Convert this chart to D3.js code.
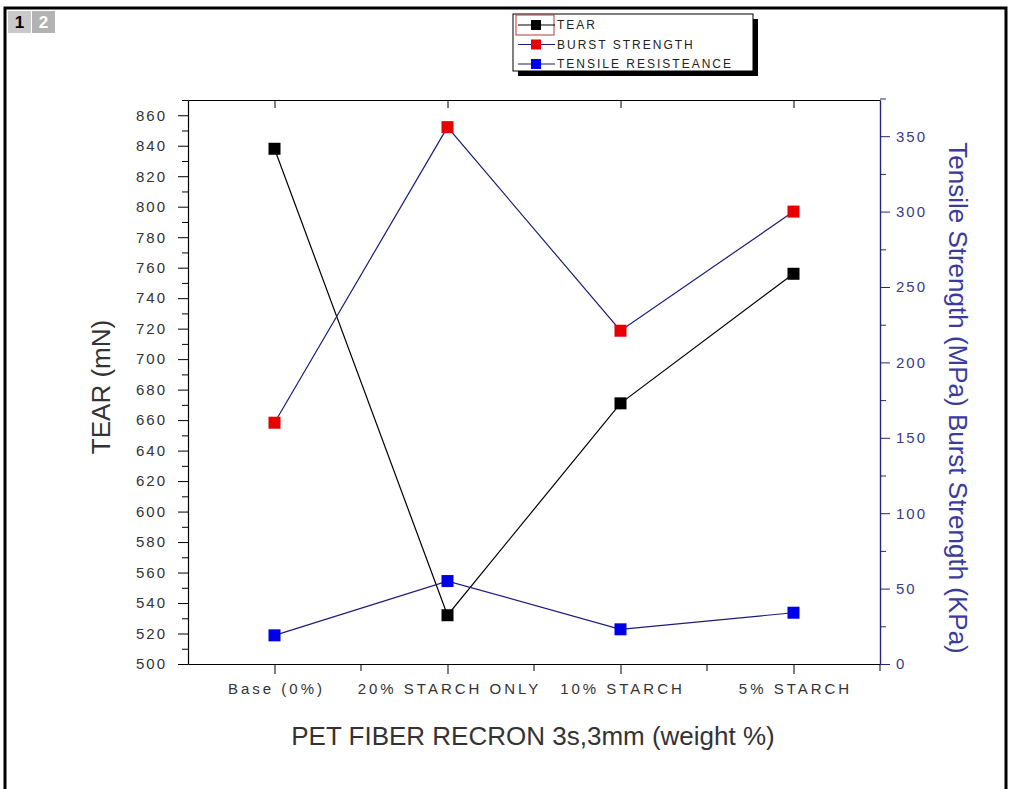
<!DOCTYPE html>
<html>
<head>
<meta charset="utf-8">
<script src="https://cdn.jsdelivr.net/npm/d3@7"></script>
<style>
  body { margin: 0; background: #fff; }
  svg { display: block; font-family: "Liberation Sans", Arial, sans-serif; }
  .tick text { font-size: 15px; letter-spacing: 2px; }
  .xaxis .tick text { letter-spacing: 3px; }
</style>
</head>
<body>
<div id="chart"></div>
<script>
// values
var categories = ["Base (0%)", "20% STARCH ONLY", "10% STARCH", "5% STARCH"];
var tear = [838, 532, 671, 756];          // mN, left axis
var burst = [160, 356, 221, 300];         // KPa, right axis
var tensile = [19, 55, 23, 34];           // MPa, right axis
var tearTicks = [500, 520, 540, 560, 580, 600, 620, 640, 660, 680, 700, 720, 740, 760, 780, 800, 820, 840, 860];
var rightTicks = [0, 50, 100, 150, 200, 250, 300, 350];
var legendLabels = ["TEAR", "BURST STRENGTH", "TENSILE RESISTEANCE"];

function drawChart(id) {
    var W = 1009, H = 789;
    var margin = {top: 100, right: 129, bottom: 125, left: 188};
    var width = W - margin.left - margin.right;
    var height = H - margin.top - margin.bottom;
    var navy = "#24247f";

    var svg = d3.select('#' + id)
        .append('svg')
        .attr('width', W)
        .attr('height', H);

    // window frame + page tabs
    svg.append("path").attr("d", "M5,789V8H1006V789").attr("fill", "none")
        .attr("stroke", "#000").attr("stroke-width", 3);
    svg.append("rect").attr("x", 8).attr("y", 11).attr("width", 23).attr("height", 22).attr("fill", "#c9c9c9");
    svg.append("rect").attr("x", 32).attr("y", 11).attr("width", 23).attr("height", 22).attr("fill", "#b3b3b3");
    svg.append("text").attr("x", 19.5).attr("y", 28).attr("text-anchor", "middle")
        .style("font-size", "17px").style("font-weight", "bold").attr("fill", "#000").text("1");
    svg.append("text").attr("x", 43.5).attr("y", 28).attr("text-anchor", "middle")
        .style("font-size", "17px").style("font-weight", "bold").attr("fill", "#fff").text("2");

    var g = svg.append("g").attr("transform", "translate(" + margin.left + "," + margin.top + ")");

    var x = d3.scalePoint().domain(categories).range([0, width]).padding(0.5);
    var yLeft = d3.scaleLinear().domain([500, 870]).range([height, 0]);
    var yRight = d3.scaleLinear().domain([0, 374]).range([height, 0]);
    var step = x.step();

    // top border with inward ticks
    g.append("g")
        .call(d3.axisTop(x).tickSize(-8).tickSizeOuter(0).tickFormat(""))
        .select(".domain").attr("stroke-width", 1.2);

    // bottom axis
    var gx = g.append("g").attr("class", "xaxis").attr("transform", "translate(0," + height + ")")
        .call(d3.axisBottom(x).tickSize(10).tickSizeOuter(0).tickPadding(9));
    gx.selectAll("text").attr("fill", "#333").attr("dx", "1.5px");
    gx.select(".domain").attr("stroke-width", 1.2);
    gx.selectAll(".minor").data(categories).enter().append("line")
        .attr("x1", function(d) { return x(d) + step / 2; })
        .attr("x2", function(d) { return x(d) + step / 2; })
        .attr("y1", 0).attr("y2", 7)
        .attr("stroke", "#000");

    // left axis
    var gl = g.append("g")
        .call(d3.axisLeft(yLeft).tickValues(tearTicks).tickSize(10).tickSizeOuter(0).tickPadding(11));
    gl.selectAll("text").attr("fill", "#333");
    gl.select(".domain").attr("stroke-width", 1.2);
    g.append("g")
        .call(d3.axisLeft(yLeft).tickValues(tearTicks.map(function(d) { return d + 10; })).tickSize(6).tickFormat(""))
        .select(".domain").remove();

    // right axis
    var gr = g.append("g").attr("transform", "translate(" + width + ",0)")
        .call(d3.axisRight(yRight).tickValues(rightTicks).tickSize(10).tickSizeOuter(0).tickPadding(6));
    gr.selectAll("line").attr("stroke", navy);
    gr.select(".domain").attr("stroke", navy).attr("stroke-width", 1.4);
    gr.selectAll("text").attr("fill", "#3a3a8c");
    g.append("g").attr("transform", "translate(" + width + ",0)")
        .call(d3.axisRight(yRight).tickValues(rightTicks.map(function(d) { return d + 25; })).tickSize(6).tickFormat(""))
        .call(function(a) { a.select(".domain").remove(); a.selectAll("line").attr("stroke", navy); });

    // axis titles
    svg.append("text")
        .attr("transform", "translate(101," + (margin.top + height / 2 + 5) + ") rotate(-90)")
        .attr("text-anchor", "middle").attr("dy", "0.35em")
        .style("font-size", "26px").attr("fill", "#333")
        .text("TEAR (mN)");

    svg.append("text")
        .attr("transform", "translate(958," + (margin.top + height / 2 + 16) + ") rotate(90)")
        .attr("text-anchor", "middle").attr("dy", "0.35em")
        .style("font-size", "26px").attr("fill", "#3b3b9e")
        .text("Tensile Strength (MPa) Burst Strength (KPa)");

    svg.append("text")
        .attr("x", margin.left + width / 2 - 1).attr("y", 736)
        .attr("text-anchor", "middle").attr("dy", "0.35em")
        .style("font-size", "26px").attr("fill", "#333")
        .text("PET FIBER RECRON 3s,3mm (weight %)");

    // series
    var series = [
        {values: tear, scale: yLeft, line: "#000", fill: "#000"},
        {values: burst, scale: yRight, line: "#1c1c78", fill: "#e60000"},
        {values: tensile, scale: yRight, line: "#1c1c78", fill: "#0000e6"}
    ];

    series.forEach(function(s) {
        var line = d3.line()
            .x(function(d, i) { return x(categories[i]); })
            .y(function(d) { return s.scale(d); });
        g.append("path").datum(s.values)
            .attr("fill", "none").attr("stroke", s.line).attr("stroke-width", 1.2)
            .attr("d", line);
    });
    series.forEach(function(s) {
        g.selectAll(null).data(s.values).enter().append("rect")
            .attr("x", function(d, i) { return x(categories[i]) - 6; })
            .attr("y", function(d) { return s.scale(d) - 6; })
            .attr("width", 12).attr("height", 12)
            .attr("fill", s.fill);
    });

    // legend
    var lg = svg.append("g").attr("transform", "translate(513,14)");
    lg.append("rect").attr("x", 5).attr("y", 5).attr("width", 240).attr("height", 57).attr("fill", "#000");
    lg.append("rect").attr("x", 0).attr("y", 0).attr("width", 240).attr("height", 57)
        .attr("fill", "#fff").attr("stroke", "#000");
    lg.append("rect").attr("x", 3).attr("y", 1).attr("width", 38).attr("height", 20)
        .attr("fill", "none").attr("stroke", "#b03a3a");
    var items = lg.selectAll(".item").data(series).enter().append("g")
        .attr("transform", function(d, i) { return "translate(0," + (11 + i * 19.5) + ")"; });
    items.append("line").attr("x1", 5).attr("x2", 42).attr("stroke", function(d) { return d.line; }).attr("stroke-width", 1.2);
    items.append("rect").attr("x", 18).attr("y", -5).attr("width", 10).attr("height", 10)
        .attr("fill", function(d) { return d.fill; });
    items.append("text").attr("x", 44).attr("dy", "0.35em")
        .style("font-size", "12px").style("letter-spacing", "2px").attr("fill", "#222")
        .text(function(d, i) { return legendLabels[i]; });
}

drawChart('chart');
</script>
</body>
</html>
